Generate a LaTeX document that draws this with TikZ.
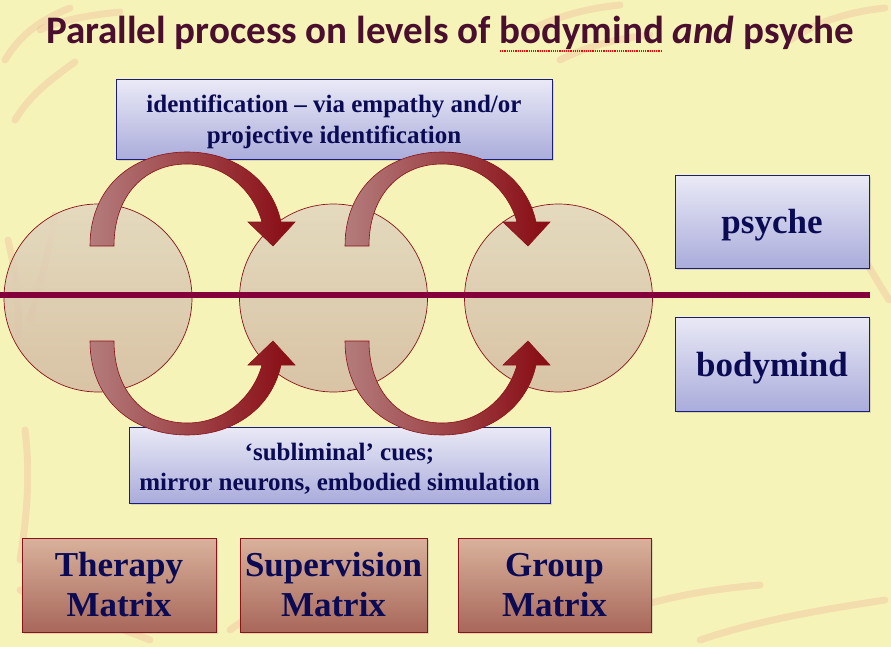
\documentclass[tikz,border=0pt]{standalone}
\usepackage{fontspec}
\setmainfont{Liberation Serif}
\newfontfamily\titlefont{Carlito}
\usetikzlibrary{shadows}
\definecolor{bgcol}{HTML}{F6F3B9}
\definecolor{strokecol}{HTML}{E8887A}
\definecolor{titlecol}{HTML}{4A0E2E}
\definecolor{navytext}{HTML}{0B0B55}
\definecolor{navyline}{HTML}{1C1C7C}
\definecolor{lavtop}{HTML}{E9E9F6}
\definecolor{lavbot}{HTML}{AAACDB}
\definecolor{circtop}{HTML}{E2D7BF}
\definecolor{circbot}{HTML}{D5BDA3}
\definecolor{darkred}{HTML}{8B1218}
\definecolor{linecol}{HTML}{84003A}
\definecolor{arrL}{HTML}{B47C7C}
\definecolor{arrM}{HTML}{A63840}
\definecolor{arrR}{HTML}{880A12}
\definecolor{mattop}{HTML}{D9B29C}
\definecolor{matbot}{HTML}{A8675A}
\newcommand\spellmark[1]{\setbox0\hbox{#1}\rlap{\raisebox{-0.2em}{\color{red}\leaders\hbox to 2.2pt{\hss\rule{1.1pt}{1.4pt}\hss}\hskip\wd0}}#1}
\begin{document}
\begin{tikzpicture}[x=1pt,y=-1pt,
  bgstroke/.style={line width=7pt, strokecol, opacity=0.2, line cap=round},
  circ/.style={circle, draw=darkred, line width=0.7pt, minimum size=188pt, inner sep=0,
     top color=circtop, bottom color=circbot, fill opacity=0.88},
  lavbox/.style={draw=navyline, line width=1pt, top color=lavtop, bottom color=lavbot,
     inner sep=0,
     drop shadow={opacity=0.25, shadow xshift=1.5pt, shadow yshift=-1.5pt}},
  lavtext/.style={text=navytext, align=center, inner sep=0},
  matbox/.style={draw=darkred, line width=1pt, top color=mattop, bottom color=matbot,
     text=navytext, align=center, inner sep=0,
     font=\bfseries\fontsize{35}{40}\selectfont,
     drop shadow={opacity=0.25, shadow xshift=1.5pt, shadow yshift=-1.5pt}},
  arrowshape/.style={draw=darkred, line width=0.6pt, left color=arrL, middle color=arrM, right color=arrR},
  curvarr/.pic={
    \path[arrowshape] (0,0) .. controls (0,-61) and (45,-94) .. (97,-94)
      .. controls (145,-94) and (182,-66) .. (191,-24) -- (205,-24) -- (183,0)
      -- (158,-24) -- (172,-24) .. controls (163,-56) and (135,-82) .. (97,-82)
      .. controls (55,-82) and (24,-51) .. (24,0) -- cycle;
  }
]
\fill[bgcol] (0,0) rectangle (891,647);
\useasboundingbox (0,0) rectangle (891,647);

% faint background brush strokes
\draw[bgstroke] (5,60) .. controls (20,35) and (40,20) .. (70,8);
\draw[bgstroke] (15,120) .. controls (30,95) and (50,80) .. (75,62);
\draw[bgstroke] (40,30) .. controls (60,20) and (90,15) .. (120,12);
\draw[bgstroke] (530,30) .. controls (560,15) and (590,8) .. (620,5);
\draw[bgstroke] (560,60) .. controls (590,45) and (620,38) .. (650,35);
\draw[bgstroke] (790,40) .. controls (820,20) and (850,12) .. (885,8);
\draw[bgstroke] (8,240) .. controls (15,270) and (20,300) .. (18,340);
\draw[bgstroke] (25,430) .. controls (30,470) and (28,510) .. (20,560);
\draw[bgstroke] (55,215) .. controls (50,250) and (40,280) .. (30,320);
\draw[bgstroke] (20,590) .. controls (60,610) and (100,620) .. (150,640);
\draw[bgstroke] (230,630) .. controls (270,600) and (320,580) .. (380,570);
\draw[bgstroke] (600,620) .. controls (650,600) and (700,590) .. (760,585);
\draw[bgstroke] (700,640) .. controls (760,620) and (820,610) .. (885,600);
\draw[bgstroke] (860,250) .. controls (870,270) and (880,285) .. (889,300);

% circles
\node[circ] (c1) at (98,298) {};
\node[circ] (c2) at (333.5,298) {};
\node[circ] (c3) at (558.5,298) {};

% level line
\coordinate (L1) at (0,295);
\coordinate (L2) at (870,295);
\draw[linecol, line width=6.5pt] (L1) -- (L2);

% label boxes
\node[lavbox, minimum width=436pt, minimum height=80pt] (ident) at (334,120) {};
\node[lavtext, font=\bfseries\fontsize{25}{31}\selectfont] (identtext) at (334,122)
  {identification -- via empathy and/or\\projective identification};
\node[lavbox, minimum width=421pt, minimum height=76pt] (sublim) at (339.5,465) {};
\node[lavtext, font=\bfseries\fontsize{25}{30}\selectfont] (sublimtext) at (339.5,469)
  {‘subliminal’ cues;\\mirror neurons, embodied simulation};

% curved arrows
\pic at (90,246) {curvarr};
\pic at (345,246) {curvarr};
\pic[yscale=-1] at (90,341) {curvarr};
\pic[yscale=-1] at (345,341) {curvarr};

% level boxes
\node[lavbox, minimum width=194pt, minimum height=92pt] (psyche) at (772,222) {};
\node[lavtext, font=\bfseries\fontsize{35}{40}\selectfont] (psychetext) at (772,225) {psyche};
\node[lavbox, minimum width=194pt, minimum height=94pt] (bodymind) at (772,364) {};
\node[lavtext, font=\bfseries\fontsize{35}{40}\selectfont] (bodymindtext) at (772,368) {bodymind};

% matrix boxes
\node[matbox, minimum width=194pt, minimum height=94pt] (therapy) at (119,585) {Therapy\\Matrix};
\node[matbox, minimum width=187pt, minimum height=94pt] (superv) at (333.5,585) {Supervision\\Matrix};
\node[matbox, minimum width=193pt, minimum height=94pt] (group) at (554.5,585) {Group\\Matrix};

% title
\node[anchor=base, text=titlecol, inner sep=0,
      font=\titlefont\bfseries\fontsize{39}{44}\selectfont] (title) at (450,44)
  {Parallel process on levels of \spellmark{bodymind} \textit{and} psyche};
\end{tikzpicture}
\end{document}
